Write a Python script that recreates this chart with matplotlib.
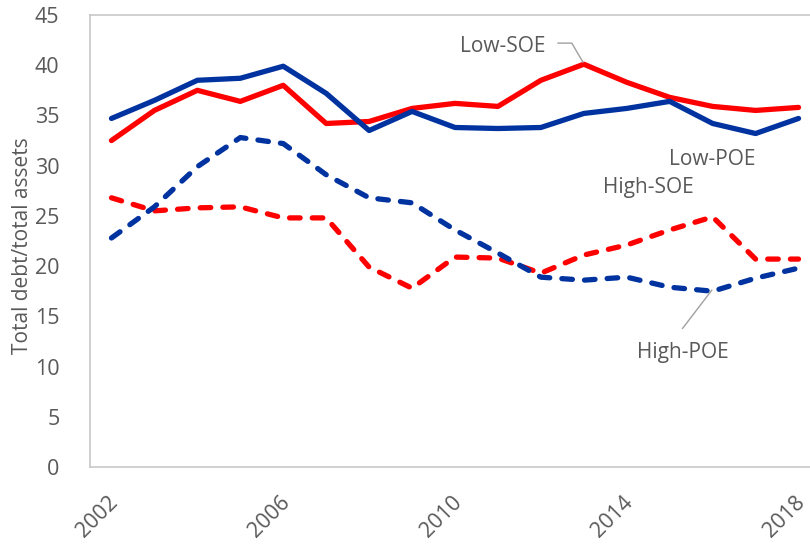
import matplotlib.pyplot as plt
import matplotlib.transforms as mtransforms

plt.rcParams['font.family'] = ['Open Sans', 'DejaVu Sans']

years = list(range(2002, 2019))

low_poe = [34.7, 36.5, 38.5, 38.7, 39.9, 37.2, 33.5, 35.4, 33.8, 33.7, 33.8,
           35.2, 35.7, 36.4, 34.2, 33.2, 34.7]
low_soe = [32.5, 35.5, 37.5, 36.4, 38.0, 34.2, 34.4, 35.7, 36.2, 35.9, 38.5,
           40.1, 38.3, 36.8, 35.9, 35.5, 35.8]
high_poe = [22.8, 25.9, 29.9, 32.8, 32.2, 29.1, 26.8, 26.3, 23.6, 21.3, 18.9,
            18.6, 18.9, 17.9, 17.5, 18.8, 19.8]
high_soe = [26.8, 25.5, 25.8, 25.9, 24.8, 24.8, 19.9, 17.8, 20.9, 20.8, 19.3,
            21.1, 22.1, 23.6, 24.9, 20.7, 20.7]

tick_years = [2002, 2006, 2010, 2014, 2018]
y_ticks = list(range(0, 50, 5))

RED = '#FF0000'
BLUE = '#0033A0'
GREY = '#595959'
FRAME = '#C8C8C8'
LEADER = '#A0A0A0'

W, H = 810, 544
fig = plt.figure(figsize=(W / 100, H / 100), dpi=100)
# plot area runs off the right edge of the image
ax = fig.add_axes([90 / W, (H - 467) / H, 730 / W, 452 / H])

lw = 3.8
dash = (0, (2.0, 2.3))
ax.plot(years, high_soe, color=RED, lw=lw, linestyle=dash, dash_capstyle='round')
ax.plot(years, high_poe, color=BLUE, lw=lw, linestyle=dash, dash_capstyle='round')
ax.plot(years, low_soe, color=RED, lw=lw, solid_capstyle='round')
ax.plot(years, low_poe, color=BLUE, lw=lw, solid_capstyle='round')

ax.set_xlim(2001.5, 2018.5)
ax.set_ylim(0, 45)
ax.set_xticks(tick_years)
ax.set_yticks(y_ticks)
ax.tick_params(length=0, labelsize=15.5, labelcolor=GREY)
ax.tick_params(axis='y', pad=22)
ax.tick_params(axis='x', pad=18)
shift = mtransforms.ScaledTranslation(-4 / 100, 0, fig.dpi_scale_trans)
for lab in ax.get_xticklabels():
    lab.set_rotation(45)
    lab.set_ha('right')
    lab.set_rotation_mode('anchor')
    lab.set_transform(lab.get_transform() + shift)

for side in ['left', 'bottom', 'top', 'right']:
    ax.spines[side].set_color(FRAME)
    ax.spines[side].set_linewidth(1.2)

ax.set_ylabel('Total debt/total assets', fontsize=15, color=GREY)
ax.yaxis.set_label_coords(-0.078, 0.49)

# series labels
txt = dict(fontsize=15, color=GREY)
ax.text(2011.12, 41.9, 'Low-SOE', ha='center', va='center', **txt)
ax.plot([2012.4, 2012.72, 2012.98], [42.2, 42.2, 40.3], color=LEADER, lw=1)
ax.text(2016.0, 30.6, 'Low-POE', ha='center', va='center', **txt)
ax.text(2014.5, 27.8, 'High-SOE', ha='center', va='center', **txt)
ax.text(2015.3, 11.4, 'High-POE', ha='center', va='center', **txt)
ax.plot([2015.3, 2015.98], [13.8, 17.6], color=LEADER, lw=1)

fig.savefig('out.png', dpi=100)
